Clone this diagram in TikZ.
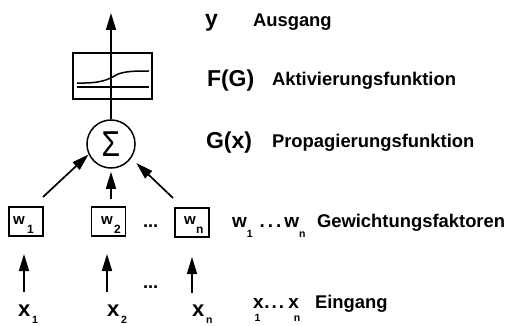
\documentclass[tikz,border=0pt]{standalone}
\usepackage{fontspec}
\setmainfont{Liberation Sans}
\usetikzlibrary{arrows.meta}
\newcommand{\dsc}{\fontsize{18.4}{20}\selectfont\bfseries}
\newcommand{\symf}{\fontsize{23}{25}\selectfont\bfseries}
\newcommand{\subf}{\fontsize{10.5}{10.5}\selectfont\bfseries}
\begin{document}
\begin{tikzpicture}[x=1pt,y=-1pt,
  ln/.style={line width=1.5pt},
  arr/.style={line width=1.7pt,-{Triangle[length=17pt,width=10pt]}},
  wbox/.style={draw,line width=1.6pt,minimum width=34pt,minimum height=29pt,inner sep=0pt},
  lab/.style={anchor=base west,inner sep=0pt,outer sep=0pt}]
\path[use as bounding box] (0,0) rectangle (511,326);

% activation box
\node[draw,line width=1.5pt,minimum width=79pt,minimum height=46pt,inner sep=0pt] (fbox) at (112.5,76) {};
\draw[line width=1.3pt] (77,87) -- (149,87);
\draw[line width=1.5pt] (77,83) .. controls (100,83.5) and (108,80) .. (116,75) .. controls (124,71) and (136,71) .. (149,71);

% sum circle
\node[draw,circle,line width=1.5pt,minimum size=48pt,inner sep=0pt] (sum) at (111,144) {};
\node (sig) at (111,144) {\scalebox{1}[1.2]{\fontsize{30}{30}\selectfont Σ}};

\coordinate (top) at (111,13);
\draw[arr] (sum.north) -- (top);

% weight boxes
\node[wbox] (w1) at (26,221.5) {};
\node[wbox] (w2) at (108.5,221.5) {};
\node[wbox] (wn) at (192,222.5) {};
\node[lab] (w1l) at (13,224) {\fontsize{15}{15}\selectfont\bfseries w\kern2.5pt\raisebox{-9pt}{\fontsize{12}{12}\selectfont 1}};
\node[lab] (w2l) at (101,224) {\fontsize{15}{15}\selectfont\bfseries w\kern1.5pt\raisebox{-9pt}{\fontsize{12}{12}\selectfont 2}};
\node[lab] (wnl) at (184,224) {\fontsize{15}{15}\selectfont\bfseries w\kern0.5pt\raisebox{-9pt}{\fontsize{12}{12}\selectfont n}};
\node[lab] (dots1) at (143,227) {\dsc ...};

% arrows into sum
\coordinate (t1) at (43,197);
\coordinate (t2) at (111,199);
\coordinate (t3) at (173,198);
\draw[arr] (t1) -- (sum.205);
\draw[arr,shorten >=3pt] (t2) -- (sum.south);
\draw[arr,shorten >=7pt] (t3) -- (sum.-35);

% input arrows
\coordinate (p1) at (24,292); \coordinate (q1) at (24,254);
\coordinate (p2) at (107,292); \coordinate (q2) at (107,254);
\coordinate (pn) at (192,293); \coordinate (qn) at (192,257);
\draw[arr] (p1) -- (q1);
\draw[arr] (p2) -- (q2);
\draw[arr] (pn) -- (qn);
\node[lab] (dots2) at (143,288) {\dsc ...};

% inputs
\node[lab] (x1) at (18,316) {\fontsize{22}{22}\selectfont\bfseries x\kern2pt\raisebox{-7pt}{\subf 1}};
\node[lab] (x2) at (107,316) {\fontsize{22}{22}\selectfont\bfseries x\kern2pt\raisebox{-7pt}{\subf 2}};
\node[lab] (xn) at (192,316) {\fontsize{22}{22}\selectfont\bfseries x\kern2pt\raisebox{-7pt}{\subf n}};

% right labels
\node[lab] (ysym) at (205,27) {\symf y};
\node[lab] (ydsc) at (253,27) {\dsc Ausgang};
\node[lab] (fsym) at (207,87) {\symf F(G)};
\node[lab] (fdsc) at (272,86) {\dsc Aktivierungsfunktion};
\node[lab] (gsym) at (206,148) {\symf G(x)};
\node[lab] (gdsc) at (272,147) {\dsc Propagierungsfunktion};
\node[lab] (wsym) at (232,227) {\fontsize{19}{19}\selectfont\bfseries w\kern0pt\raisebox{-10pt}{\subf 1}\kern7pt.\kern3pt.\kern3pt.\kern3pt w\kern0pt\raisebox{-10pt}{\subf n}};
\node[lab] (wdsc) at (317,227) {\dsc Gewichtungsfaktoren};
\node[lab] (xsym) at (253,308) {\fontsize{19}{19}\selectfont\bfseries x\kern-9pt\raisebox{-13pt}{\subf 1}\kern4pt.\kern2pt.\kern2pt.\kern4pt x\kern-5pt\raisebox{-13pt}{\subf n}};
\node[lab] (xdsc) at (315,308) {\dsc Eingang};
\end{tikzpicture}
\end{document}
